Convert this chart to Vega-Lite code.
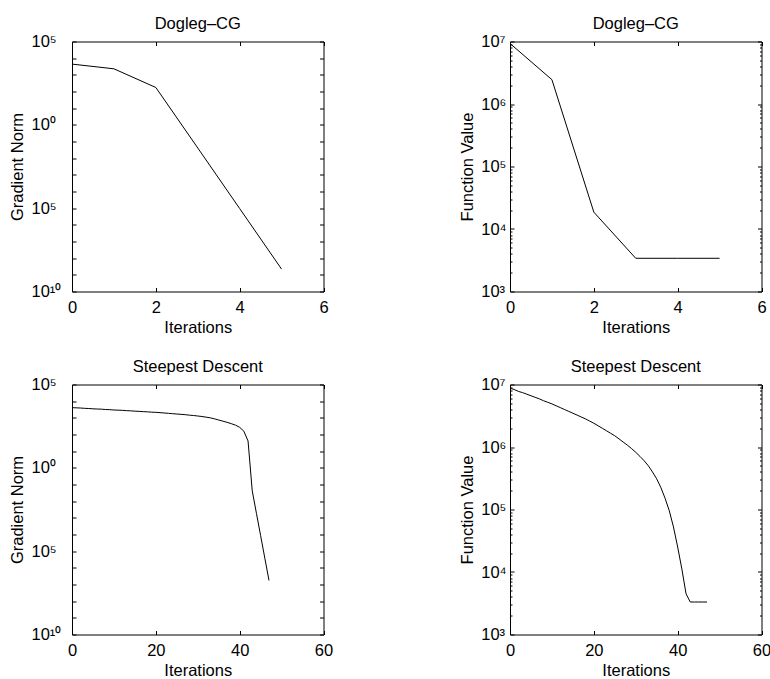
{
  "$schema": "https://vega.github.io/schema/vega-lite/v6.json",
  "autosize": {"type": "pad"},
  "padding": {"left": 9, "top": 15.5, "right": 5, "bottom": 5},
  "background": "white",
  "config": {
    "view": {"stroke": null},
    "axis": {
      "domainColor": "black", "domainWidth": 1,
      "tickColor": "black", "tickWidth": 1, "tickSize": -4,
      "labelFont": "Liberation Sans", "labelFontSize": 16.5, "labelColor": "black",
      "titleFont": "Liberation Sans", "titleFontSize": 16.5, "titleFontWeight": "normal", "titleColor": "black",
      "grid": false, "labelFlush": false, "labelOverlap": false, "labelBound": false, "labelAngle": 0
    },
    "title": {"font": "Liberation Sans", "fontSize": 16.5, "fontWeight": "normal", "color": "black", "baseline": "alphabetic"}
  },
  "datasets": {
    "doglegGrad": [
      {"iteration": 0, "gradientNorm": 4400},
      {"iteration": 1, "gradientNorm": 2300},
      {"iteration": 2, "gradientNorm": 174},
      {"iteration": 3, "gradientNorm": 0.041},
      {"iteration": 4, "gradientNorm": 9.5e-6},
      {"iteration": 5, "gradientNorm": 2.2e-9}
    ],
    "doglegFunc": [
      {"iteration": 0, "functionValue": 9300000},
      {"iteration": 1, "functionValue": 2450000},
      {"iteration": 2, "functionValue": 18600},
      {"iteration": 3, "functionValue": 3400},
      {"iteration": 4, "functionValue": 3400},
      {"iteration": 5, "functionValue": 3400}
    ],
    "sdGrad": [
      {"iteration": 0, "gradientNorm": 4074},
      {"iteration": 1, "gradientNorm": 3981},
      {"iteration": 2, "gradientNorm": 3890},
      {"iteration": 3, "gradientNorm": 3715},
      {"iteration": 4, "gradientNorm": 3631},
      {"iteration": 5, "gradientNorm": 3467},
      {"iteration": 6, "gradientNorm": 3388},
      {"iteration": 7, "gradientNorm": 3311},
      {"iteration": 8, "gradientNorm": 3162},
      {"iteration": 9, "gradientNorm": 3090},
      {"iteration": 10, "gradientNorm": 2951},
      {"iteration": 11, "gradientNorm": 2884},
      {"iteration": 12, "gradientNorm": 2818},
      {"iteration": 13, "gradientNorm": 2692},
      {"iteration": 14, "gradientNorm": 2630},
      {"iteration": 15, "gradientNorm": 2512},
      {"iteration": 16, "gradientNorm": 2455},
      {"iteration": 17, "gradientNorm": 2344},
      {"iteration": 18, "gradientNorm": 2291},
      {"iteration": 19, "gradientNorm": 2188},
      {"iteration": 20, "gradientNorm": 2138},
      {"iteration": 21, "gradientNorm": 2042},
      {"iteration": 22, "gradientNorm": 1950},
      {"iteration": 23, "gradientNorm": 1862},
      {"iteration": 24, "gradientNorm": 1778},
      {"iteration": 25, "gradientNorm": 1698},
      {"iteration": 26, "gradientNorm": 1622},
      {"iteration": 27, "gradientNorm": 1549},
      {"iteration": 28, "gradientNorm": 1445},
      {"iteration": 29, "gradientNorm": 1380},
      {"iteration": 30, "gradientNorm": 1288},
      {"iteration": 31, "gradientNorm": 1202},
      {"iteration": 32, "gradientNorm": 1096},
      {"iteration": 33, "gradientNorm": 1000},
      {"iteration": 34, "gradientNorm": 871},
      {"iteration": 35, "gradientNorm": 741},
      {"iteration": 36, "gradientNorm": 631},
      {"iteration": 37, "gradientNorm": 537},
      {"iteration": 38, "gradientNorm": 447},
      {"iteration": 39, "gradientNorm": 363},
      {"iteration": 40, "gradientNorm": 269},
      {"iteration": 41, "gradientNorm": 158},
      {"iteration": 42, "gradientNorm": 40.7},
      {"iteration": 43, "gradientNorm": 0.0417},
      {"iteration": 44, "gradientNorm": 0.00186},
      {"iteration": 45, "gradientNorm": 8.5e-5},
      {"iteration": 46, "gradientNorm": 3.8e-6},
      {"iteration": 47, "gradientNorm": 1.74e-7}
    ],
    "sdFunc": [
      {"iteration": 0, "functionValue": 8710000},
      {"iteration": 1, "functionValue": 8320000},
      {"iteration": 2, "functionValue": 7760000},
      {"iteration": 3, "functionValue": 7410000},
      {"iteration": 4, "functionValue": 7000000},
      {"iteration": 5, "functionValue": 6610000},
      {"iteration": 6, "functionValue": 6240000},
      {"iteration": 7, "functionValue": 5890000},
      {"iteration": 8, "functionValue": 5500000},
      {"iteration": 9, "functionValue": 5190000},
      {"iteration": 10, "functionValue": 4900000},
      {"iteration": 11, "functionValue": 4570000},
      {"iteration": 12, "functionValue": 4270000},
      {"iteration": 13, "functionValue": 3980000},
      {"iteration": 14, "functionValue": 3720000},
      {"iteration": 15, "functionValue": 3470000},
      {"iteration": 16, "functionValue": 3240000},
      {"iteration": 17, "functionValue": 3020000},
      {"iteration": 18, "functionValue": 2820000},
      {"iteration": 19, "functionValue": 2600000},
      {"iteration": 20, "functionValue": 2400000},
      {"iteration": 21, "functionValue": 2190000},
      {"iteration": 22, "functionValue": 2000000},
      {"iteration": 23, "functionValue": 1820000},
      {"iteration": 24, "functionValue": 1660000},
      {"iteration": 25, "functionValue": 1510000},
      {"iteration": 26, "functionValue": 1350000},
      {"iteration": 27, "functionValue": 1200000},
      {"iteration": 28, "functionValue": 1070000},
      {"iteration": 29, "functionValue": 944000},
      {"iteration": 30, "functionValue": 822000},
      {"iteration": 31, "functionValue": 708000},
      {"iteration": 32, "functionValue": 603000},
      {"iteration": 33, "functionValue": 501000},
      {"iteration": 34, "functionValue": 398000},
      {"iteration": 35, "functionValue": 309000},
      {"iteration": 36, "functionValue": 224000},
      {"iteration": 37, "functionValue": 151000},
      {"iteration": 38, "functionValue": 95500},
      {"iteration": 39, "functionValue": 52500},
      {"iteration": 40, "functionValue": 25100},
      {"iteration": 41, "functionValue": 11200},
      {"iteration": 42, "functionValue": 4470},
      {"iteration": 43, "functionValue": 3311},
      {"iteration": 44, "functionValue": 3311},
      {"iteration": 45, "functionValue": 3311},
      {"iteration": 46, "functionValue": 3311},
      {"iteration": 47, "functionValue": 3311}
    ]
  },
  "concat": [
    {
      "width": 251.5, "height": 250,
      "title": {"text": "Dogleg–CG", "offset": 1},
      "data": {"name": "doglegGrad"},
      "layer": [
        {
          "mark": {"type": "line", "color": "black", "strokeWidth": 1},
          "encoding": {
            "x": {"field": "iteration", "type": "quantitative", "scale": {"domain": [0, 6], "nice": false, "zero": false},
              "axis": {"orient": "bottom", "values": [0, 2, 4, 6], "title": "Iterations", "labelPadding": 11.5, "titleY": 41, "titleBaseline": "alphabetic"}},
            "y": {"field": "gradientNorm", "type": "quantitative", "scale": {"type": "log", "domain": [1e-10, 100000], "nice": false},
              "axis": {"orient": "left", "values": [1e-10, 1e-9, 1e-8, 1e-7, 1e-6, 1e-5, 1e-4, 1e-3, 0.01, 0.1, 1, 10, 100, 1000, 10000, 100000],
                "labelExpr": "datum.value > 50000 ? '10⁵' : (datum.value > 0.5 && datum.value < 2) ? '10⁰' : (datum.value > 5e-6 && datum.value < 2e-5) ? '10⁵' : datum.value < 5e-10 ? '10¹⁰' : ''",
                "labelAlign": "left", "labelPadding": 45, "title": "Gradient Norm", "titleX": -50, "titleBaseline": "alphabetic"}}
          }
        },
        {
          "mark": {"type": "line", "strokeOpacity": 0},
          "encoding": {
            "x": {"field": "iteration", "type": "quantitative", "axis": {"orient": "top", "values": [0, 2, 4, 6], "labels": false, "title": null}},
            "y": {"field": "gradientNorm", "type": "quantitative", "axis": {"orient": "right", "values": [1e-10, 1e-9, 1e-8, 1e-7, 1e-6, 1e-5, 1e-4, 1e-3, 0.01, 0.1, 1, 10, 100, 1000, 10000, 100000], "labels": false, "title": null}}
          }
        }
      ],
      "resolve": {"axis": {"x": "independent", "y": "independent"}}
    },
    {
      "width": 251.5, "height": 250,
      "title": {"text": "Dogleg–CG", "offset": 1},
      "data": {"name": "doglegFunc"},
      "layer": [
        {
          "mark": {"type": "line", "color": "black", "strokeWidth": 1},
          "encoding": {
            "x": {"field": "iteration", "type": "quantitative", "scale": {"domain": [0, 6], "nice": false, "zero": false},
              "axis": {"orient": "bottom", "values": [0, 2, 4, 6], "title": "Iterations", "labelPadding": 11.5, "titleY": 41, "titleBaseline": "alphabetic"}},
            "y": {"field": "functionValue", "type": "quantitative", "scale": {"type": "log", "domain": [1000, 10000000], "nice": false},
              "axis": {"orient": "left",
                "values": [1000, 2000, 3000, 4000, 5000, 6000, 7000, 8000, 9000, 10000, 20000, 30000, 40000, 50000, 60000, 70000, 80000, 90000, 100000, 200000, 300000, 400000, 500000, 600000, 700000, 800000, 900000, 1000000, 2000000, 3000000, 4000000, 5000000, 6000000, 7000000, 8000000, 9000000, 10000000],
                "labelExpr": "datum.value == 1000 ? '10³' : datum.value == 10000 ? '10⁴' : datum.value == 100000 ? '10⁵' : datum.value == 1000000 ? '10⁶' : datum.value == 10000000 ? '10⁷' : ''",
                "tickSize": {"condition": {"test": "abs(log(datum.value)/LN10 - round(log(datum.value)/LN10)) < 0.000001", "value": -4}, "value": -2},
                "labelAlign": "left", "labelPadding": 33.3, "title": "Function Value", "titleX": -37.7, "titleBaseline": "alphabetic"}}
          }
        },
        {
          "mark": {"type": "line", "strokeOpacity": 0},
          "encoding": {
            "x": {"field": "iteration", "type": "quantitative", "axis": {"orient": "top", "values": [0, 2, 4, 6], "labels": false, "title": null}},
            "y": {"field": "functionValue", "type": "quantitative", "axis": {"orient": "right",
              "values": [1000, 2000, 3000, 4000, 5000, 6000, 7000, 8000, 9000, 10000, 20000, 30000, 40000, 50000, 60000, 70000, 80000, 90000, 100000, 200000, 300000, 400000, 500000, 600000, 700000, 800000, 900000, 1000000, 2000000, 3000000, 4000000, 5000000, 6000000, 7000000, 8000000, 9000000, 10000000],
              "tickSize": {"condition": {"test": "abs(log(datum.value)/LN10 - round(log(datum.value)/LN10)) < 0.000001", "value": -4}, "value": -2},
              "labels": false, "title": null}}
          }
        }
      ],
      "resolve": {"axis": {"x": "independent", "y": "independent"}}
    },
    {
      "width": 251.5, "height": 250,
      "title": {"text": "Steepest Descent", "offset": 0.7},
      "data": {"name": "sdGrad"},
      "layer": [
        {
          "mark": {"type": "line", "color": "black", "strokeWidth": 1},
          "encoding": {
            "x": {"field": "iteration", "type": "quantitative", "scale": {"domain": [0, 60], "nice": false, "zero": false},
              "axis": {"orient": "bottom", "values": [0, 20, 40, 60], "title": "Iterations", "labelPadding": 11.5, "titleY": 41, "titleBaseline": "alphabetic"}},
            "y": {"field": "gradientNorm", "type": "quantitative", "scale": {"type": "log", "domain": [1e-10, 100000], "nice": false},
              "axis": {"orient": "left", "values": [1e-10, 1e-9, 1e-8, 1e-7, 1e-6, 1e-5, 1e-4, 1e-3, 0.01, 0.1, 1, 10, 100, 1000, 10000, 100000],
                "labelExpr": "datum.value > 50000 ? '10⁵' : (datum.value > 0.5 && datum.value < 2) ? '10⁰' : (datum.value > 5e-6 && datum.value < 2e-5) ? '10⁵' : datum.value < 5e-10 ? '10¹⁰' : ''",
                "labelAlign": "left", "labelPadding": 45, "title": "Gradient Norm", "titleX": -50, "titleBaseline": "alphabetic"}}
          }
        },
        {
          "mark": {"type": "line", "strokeOpacity": 0},
          "encoding": {
            "x": {"field": "iteration", "type": "quantitative", "axis": {"orient": "top", "values": [0, 20, 40, 60], "labels": false, "title": null}},
            "y": {"field": "gradientNorm", "type": "quantitative", "axis": {"orient": "right", "values": [1e-10, 1e-9, 1e-8, 1e-7, 1e-6, 1e-5, 1e-4, 1e-3, 0.01, 0.1, 1, 10, 100, 1000, 10000, 100000], "labels": false, "title": null}}
          }
        }
      ],
      "resolve": {"axis": {"x": "independent", "y": "independent"}}
    },
    {
      "width": 251.5, "height": 250,
      "title": {"text": "Steepest Descent", "offset": 0.7},
      "data": {"name": "sdFunc"},
      "layer": [
        {
          "mark": {"type": "line", "color": "black", "strokeWidth": 1},
          "encoding": {
            "x": {"field": "iteration", "type": "quantitative", "scale": {"domain": [0, 60], "nice": false, "zero": false},
              "axis": {"orient": "bottom", "values": [0, 20, 40, 60], "title": "Iterations", "labelPadding": 11.5, "titleY": 41, "titleBaseline": "alphabetic"}},
            "y": {"field": "functionValue", "type": "quantitative", "scale": {"type": "log", "domain": [1000, 10000000], "nice": false},
              "axis": {"orient": "left",
                "values": [1000, 2000, 3000, 4000, 5000, 6000, 7000, 8000, 9000, 10000, 20000, 30000, 40000, 50000, 60000, 70000, 80000, 90000, 100000, 200000, 300000, 400000, 500000, 600000, 700000, 800000, 900000, 1000000, 2000000, 3000000, 4000000, 5000000, 6000000, 7000000, 8000000, 9000000, 10000000],
                "labelExpr": "datum.value == 1000 ? '10³' : datum.value == 10000 ? '10⁴' : datum.value == 100000 ? '10⁵' : datum.value == 1000000 ? '10⁶' : datum.value == 10000000 ? '10⁷' : ''",
                "tickSize": {"condition": {"test": "abs(log(datum.value)/LN10 - round(log(datum.value)/LN10)) < 0.000001", "value": -4}, "value": -2},
                "labelAlign": "left", "labelPadding": 33.3, "title": "Function Value", "titleX": -37.7, "titleBaseline": "alphabetic"}}
          }
        },
        {
          "mark": {"type": "line", "strokeOpacity": 0},
          "encoding": {
            "x": {"field": "iteration", "type": "quantitative", "axis": {"orient": "top", "values": [0, 20, 40, 60], "labels": false, "title": null}},
            "y": {"field": "functionValue", "type": "quantitative", "axis": {"orient": "right",
              "values": [1000, 2000, 3000, 4000, 5000, 6000, 7000, 8000, 9000, 10000, 20000, 30000, 40000, 50000, 60000, 70000, 80000, 90000, 100000, 200000, 300000, 400000, 500000, 600000, 700000, 800000, 900000, 1000000, 2000000, 3000000, 4000000, 5000000, 6000000, 7000000, 8000000, 9000000, 10000000],
              "tickSize": {"condition": {"test": "abs(log(datum.value)/LN10 - round(log(datum.value)/LN10)) < 0.000001", "value": -4}, "value": -2},
              "labels": false, "title": null}}
          }
        }
      ],
      "resolve": {"axis": {"x": "independent", "y": "independent"}}
    }
  ],
  "columns": 2,
  "spacing": {"row": 93, "column": 186},
  "bounds": "flush"
}
